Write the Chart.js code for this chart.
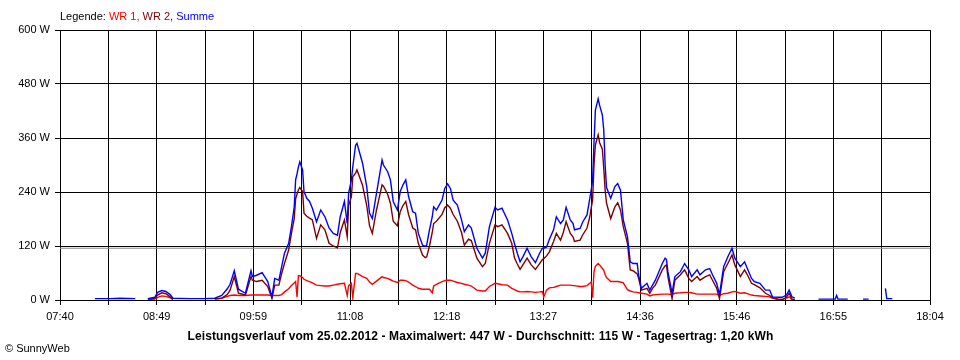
<!DOCTYPE html>
<html>
<head>
<meta charset="utf-8">
<script src="https://cdn.jsdelivr.net/npm/chart.js@4.4.1/dist/chart.umd.min.js"></script>
<style>
    body { margin: 0; background: #fff; font-family: "Liberation Sans", Arial, sans-serif; }
    #wrap { position: relative; width: 960px; height: 360px; }
    .legend { position: absolute; left: 60px; top: 10px; font-size: 11px; line-height: 13px; color: #000; }
    .caption { position: absolute; left: 0; width: 961px; top: 329px; text-align: center; font-weight: bold; font-size: 12px; line-height: 14px; letter-spacing: 0.1px; }
    .credit { position: absolute; left: 5px; top: 342px; font-size: 11px; line-height: 13px; }
</style>
</head>
<body>
<div id="wrap">
    <canvas id="powerChart"></canvas>
    <div class="legend">Legende: <span style="color:#ff0000">WR 1,</span> <span style="color:#800000">WR 2,</span> <span style="color:#0000ff">Summe</span></div>
    <div class="caption">Leistungsverlauf vom 25.02.2012 - Maximalwert: 447 W - Durchschnitt: 115 W - Tagesertrag: 1,20 kWh</div>
    <div class="credit">© SunnyWeb</div>
</div>
<script>
// Zeitachse
const xTickLabels = ['07:40', '08:49', '09:59', '11:08', '12:18', '13:27', '14:36', '15:46', '16:55', '18:04'];
const yMax = 600;
const yStep = 120;
const average = 115; // Durchschnitt in W

const times = [
    '08:05', '08:16', '08:23', '08:34', '08:35', '08:42', '08:43', '08:48', '08:50', '08:53',
    '08:56', '08:59', '09:01', '09:13', '09:24', '09:31', '09:36', '09:40', '09:42', '09:45',
    '09:48', '09:53', '09:57', '09:58', '10:01', '10:05', '10:09', '10:12', '10:14', '10:17',
    '10:19', '10:21', '10:24', '10:26', '10:28', '10:29', '10:30', '10:31', '10:32', '10:34',
    '10:35', '10:37', '10:39', '10:41', '10:44', '10:47', '10:50', '10:53', '10:56', '10:59',
    '11:01', '11:04', '11:06', '11:07', '11:09', '11:10', '11:12', '11:13', '11:15', '11:17',
    '11:20', '11:22', '11:24', '11:27', '11:31', '11:32', '11:35', '11:37', '11:39', '11:42',
    '11:44', '11:46', '11:48', '11:50', '11:53', '11:55', '11:57', '12:00', '12:02', '12:03',
    '12:05', '12:07', '12:08', '12:10', '12:14', '12:16', '12:18', '12:20', '12:22', '12:25',
    '12:28', '12:30', '12:33', '12:35', '12:39', '12:43', '12:45', '12:48', '12:52', '12:54',
    '12:57', '13:01', '13:04', '13:06', '13:08', '13:10', '13:12', '13:15', '13:18', '13:21',
    '13:24', '13:26', '13:27', '13:29', '13:31', '13:34', '13:36', '13:39', '13:41', '13:43',
    '13:46', '13:48', '13:49', '13:53', '13:55', '13:58', '14:00', '14:01', '14:02', '14:03',
    '14:04', '14:06', '14:07', '14:09', '14:10', '14:11', '14:12', '14:15', '14:18', '14:20',
    '14:22', '14:24', '14:27', '14:29', '14:31', '14:34', '14:35', '14:37', '14:41', '14:43',
    '14:45', '14:47', '14:52', '14:54', '14:55', '14:56', '14:59', '15:01', '15:05', '15:08',
    '15:11', '15:13', '15:17', '15:19', '15:23', '15:26', '15:28', '15:31', '15:33', '15:36',
    '15:39', '15:42', '15:44', '15:48', '15:51', '15:53', '15:56', '15:58', '16:02', '16:06',
    '16:09', '16:11', '16:15', '16:18', '16:21', '16:23', '16:25', '16:27', '16:29', '16:43',
    '16:44', '16:56', '16:57', '16:58', '17:05', '17:06', '17:15', '17:16', '17:20', '17:21',
    '17:31', '17:32', '17:33', '17:37', '17:38'
];

const wr1 = [
    null, null, null, null, null, null, 1, 2, 6, 9,
    8, 5, 1, null, null, 2, 4, 8, 10, 11,
    10, 10, 11, 11, 11, 11, 11, 10, 10, 10,
    12, 18, 25, 32, 38, 41, 7, 54, 54, 50,
    46, 43, 41, 38, 33, 32, 31, 31, 33, 35,
    36, 37, 10, 32, 37, 5, 59, 59, 56, 52,
    48, 40, 35, 42, 52, 50, 48, 45, 42, 39,
    44, 44, 43, 40, 33, 30, 26, 24, 24, 24,
    24, 16, 31, 35, 41, 43, 44, 44, 42, 39,
    37, 35, 33, 31, 22, 20, 20, 30, 37, 36,
    34, 33, 26, 23, 20, 18, 18, 19, 18, 17,
    18, 19, 7, 22, 27, 28, 30, 33, 33, 33,
    33, 32, 32, 30, 30, 32, 37, 40, 5, 63,
    75, 81, 78, 70, 66, 56, 50, 41, 41, 41,
    40, 38, 23, 20, 18, 17, 16, 15, 13, 9,
    11, 12, 13, 13, 13, 13, 12, 15, 16, 17,
    17, 16, 13, 13, 13, 13, 13, 13, 10, 14,
    15, 18, 19, 15, 16, 14, 11, 10, 9, 8,
    7, 4, 1, 1, 4, 7, 1, 0, null, null,
    null, null, null, null, null, null, null, null, null, null,
    null, null, null, null, null
];

const wr2 = [
    null, null, null, null, null, null, 2, 4, 11, 16,
    14, 7, 2, null, null, 2, 4, 12, 22, 52,
    15, 11, 52, 44, 41, 44, 30, 4, 33, 33,
    59, 81, 111, 148, 181, 225, 235, 245, 250, 241,
    193, 186, 182, 178, 137, 167, 156, 126, 120, 116,
    150, 178, 141, 210, 230, 274, 282, 289, 272, 255,
    210, 165, 148, 200, 256, 253, 235, 215, 175, 165,
    196, 210, 219, 190, 160, 156, 126, 100, 94, 96,
    120, 150, 170, 175, 190, 205, 211, 204, 190, 175,
    150, 122, 135, 132, 93, 74, 81, 126, 167, 163,
    167, 148, 126, 93, 80, 68, 78, 93, 78, 68,
    81, 90, 92, 98, 107, 130, 148, 133, 150, 174,
    148, 140, 130, 133, 145, 160, 185, 205, 222, 300,
    345, 367, 350, 335, 293, 244, 215, 181, 207, 216,
    200, 163, 126, 67, 65, 58, 48, 22, 26, 15,
    26, 33, 67, 76, 78, 52, 3, 44, 56, 67,
    48, 41, 52, 44, 52, 56, 44, 26, 3, 63,
    81, 100, 78, 52, 67, 56, 37, 34, 27, 15,
    10, 5, 2, 1, 6, 15, 2, 1, null, null,
    null, null, null, null, null, null, null, null, null, null,
    null, null, null, null, null
];

const summe = [
    3, 3, 4, 3, null, null, 3, 6, 17, 21,
    19, 12, 4, 3, 3, 4, 10, 25, 35, 65,
    24, 15, 65, 52, 55, 61, 41, 7, 48, 44,
    74, 104, 126, 163, 207, 267, 280, 296, 307, 289,
    241, 226, 219, 204, 174, 200, 185, 160, 148, 144,
    185, 219, 170, 237, 267, 296, 344, 348, 326, 304,
    252, 193, 181, 237, 311, 300, 285, 267, 219, 200,
    241, 256, 267, 230, 196, 193, 148, 122, 119, 122,
    156, 185, 207, 200, 222, 248, 258, 248, 222, 211,
    178, 152, 167, 160, 115, 93, 104, 163, 206, 200,
    204, 178, 148, 125, 104, 85, 96, 115, 96, 83,
    104, 115, 115, 118, 135, 156, 185, 170, 178, 206,
    178, 170, 156, 159, 174, 189, 226, 245, 265, 348,
    422, 447, 433, 411, 378, 300, 250, 226, 252, 259,
    244, 178, 141, 85, 81, 81, 56, 26, 37, 22,
    33, 44, 81, 93, 90, 63, 15, 52, 63, 81,
    67, 52, 67, 56, 67, 70, 56, 37, 12, 74,
    96, 115, 93, 74, 85, 70, 48, 41, 37, 22,
    22, 7, 6, 6, 11, 22, 7, 4, null, null,
    2, 2, 10, 2, 2, null, null, 2, 2, null,
    null, 26, 3, 3, null
];

const startMin = 7 * 60 + 40;
const endMin = 18 * 60 + 4;
const span = endMin - startMin;

function toMin(t) {
    const [h, m] = t.split(':').map(Number);
    return h * 60 + m - startMin;
}

function points(values) {
    return times.map((t, i) => ({ x: toMin(t), y: values[i] }));
}

// Gitterlinien: jede Beschriftung plus eine Linie dazwischen
const gridCount = (xTickLabels.length - 1) * 2;
const gridPos = [];
for (let i = 0; i <= gridCount; i++) gridPos.push(i * span / gridCount);

const font = { family: '"Liberation Sans", Arial, sans-serif', size: 11 };

new Chart(document.getElementById('powerChart'), {
    type: 'line',
    data: {
        datasets: [
            { label: 'WR 1', data: points(wr1), borderColor: '#ff0000', order: 2 },
            { label: 'WR 2', data: points(wr2), borderColor: '#800000', order: 1 },
            { label: 'Summe', data: points(summe), borderColor: '#0000ff', order: 0 },
            { label: 'Durchschnitt', data: [{ x: 0, y: average }, { x: span, y: average }], borderColor: '#8c8c8c', borderWidth: 1, order: 3 }
        ]
    },
    options: {
        responsive: true,
        maintainAspectRatio: false,
        animation: false,
        spanGaps: false,
        layout: { padding: { top: 30, right: 30, left: 0, bottom: 0 } },
        elements: {
            point: { radius: 0 },
            line: { borderWidth: 1.4, tension: 0, fill: false }
        },
        scales: {
            x: {
                type: 'linear',
                min: 0,
                max: span,
                afterFit: s => { s.height = 60; },
                afterBuildTicks: s => { s.ticks = gridPos.map(v => ({ value: v })); },
                ticks: {
                    autoSkip: false,
                    maxRotation: 0,
                    padding: 5,
                    color: '#000',
                    font: font,
                    callback: (v, i) => (i % 2 === 0 ? xTickLabels[i / 2] : '')
                },
                grid: { color: '#000', lineWidth: 1, tickLength: 5 },
                border: { color: '#000' }
            },
            y: {
                min: 0,
                max: yMax,
                afterFit: s => { s.width = 60; },
                ticks: {
                    stepSize: yStep,
                    padding: 5,
                    color: '#000',
                    font: font,
                    callback: v => v + ' W'
                },
                grid: { color: '#000', lineWidth: 1, tickLength: 5 },
                border: { color: '#000' }
            }
        },
        plugins: {
            legend: { display: false },
            tooltip: { enabled: false }
        }
    }
});
</script>
</body>
</html>
